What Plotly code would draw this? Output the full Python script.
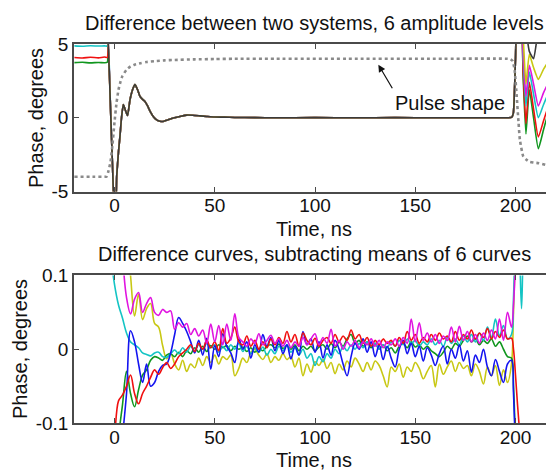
import plotly.graph_objects as go

# ---------------- TOP PANEL DATA ----------------
top_pre_t = [-20, -16, -12, -8, -5, -3.6]
top_pre = {
    "black":   [6.2, 6.25, 6.2, 6.22, 6.2, 6.2],
    "yellow":  [5.8, 5.82, 5.78, 5.8, 5.81, 5.8],
    "magenta": [5.4, 5.42, 5.38, 5.41, 5.4, 5.4],
    "cyan":    [4.87, 4.85, 4.88, 4.86, 4.87, 4.86],
    "red":     [4.08, 4.05, 4.1, 4.06, 4.12, 4.08],
    "green":   [3.74, 3.76, 3.72, 3.75, 3.73, 3.76],
}
top_mid_t = [-3.1, -2.0, -1.0, 0.0, 0.5, 1.1, 2.0, 2.7, 3.5, 4.4, 5.2, 6.5, 7.7, 9.0,
             10.2, 11.5, 12.7, 14.0, 15.2, 16.5, 17.7, 19.5, 21.0, 22.7, 24.3, 26.5,
             29.3, 32.7, 36.0, 39.0, 42.6, 46, 50, 55, 60, 70, 80, 100, 120, 140,
             160, 180, 190, 196, 198]
top_mid = [5.0, 0.7, -3.2, -6.0, -6.0, -3.95, -2.3, -1.3, 0.0, 0.9, 0.6, 0.15, 1.2, 1.9,
           2.25, 1.9, 1.45, 1.25, 1.1, 0.8, 0.45, 0.05, -0.14, -0.24, -0.25, -0.15,
           -0.02, 0.09, 0.18, 0.17, 0.13, 0.09, 0.05, 0.04, 0.02, 0.01, 0.0, 0.01, 0.0,
           0.01, 0.0, 0.0, 0.0, 0.0, 0.02]
top_post_t = [198.9, 200.0, 201.0, 202.5, 203.8, 205.2, 206.9, 209.0, 211.4, 214.0, 217.0, 220.0]
top_post = {
    "black":   [0.3, 4.0, 7.0, 7.0, 7.0, 6.0, 4.5, 4.0, 5.8, 6.2, 6.4, 6.5],
    "yellow":  [0.3, 4.0, 7.0, 7.0, 5.5, 2.3, 4.3, 3.4, 2.6, 3.3, 3.9, 4.3],
    "magenta": [0.3, 4.0, 7.0, 7.0, 4.5, 1.45, 3.55, 2.3, 0.8, 1.7, 2.5, 3.0],
    "cyan":    [0.3, 4.0, 7.0, 7.0, 4.0, 0.8, 3.1, 1.6, 0.0, 0.9, 1.8, 2.3],
    "red":     [0.3, 4.0, 7.0, 7.0, 3.2, -0.4, 2.4, 0.6, -1.3, -0.2, 1.0, 1.6],
    "green":   [0.3, 4.0, 7.0, 7.0, 2.8, -1.1, 1.9, 0.0, -2.1, -0.8, 0.6, 1.2],
}
pulse_t = [-20, -10, -5, -3.9, -3.0, -2.0, -1.0, 0.0, 1.0, 2.0, 3.0, 4.0, 6.0, 8.0, 10.0,
           13.0, 16.0, 20.0, 25.0, 30.0, 40.0, 50.0, 60.0, 80.0, 120.0, 160.0, 196.0,
           197.5, 198.5, 199.5, 200.6, 201.5, 202.2, 203.9, 205.5, 207.0, 209.0, 211.6,
           215.0, 218.0, 220.0]
pulse = [-4.0, -4.0, -4.0, -3.98, -3.6, -3.0, -1.8, -0.3, 1.0, 1.9, 2.45, 2.85, 3.25, 3.48,
         3.6, 3.7, 3.78, 3.84, 3.89, 3.92, 3.96, 3.98, 4.0, 4.0, 4.0, 4.0, 4.0,
         3.97, 3.86, 3.3, 1.45, -0.3, -1.5, -2.63, -2.85, -2.99, -3.04, -3.08,
         -3.2, -3.33, -3.38]

# ---------------- BOTTOM PANEL DATA ----------------
bot_t = list(range(-2, 199, 2)) + [199, 200, 201, 202, 203, 204, 206]
bot = {
    "yellow": [0.8, 0.6, 0.4, 0.3, 0.16, 0.1, 0.045, 0.075, 0.04, 0.055,
               0.062, 0.035, 0.03, 0.005, -0.013, -0.005, -0.02, -0.028, -0.015, -0.03,
               -0.02, -0.025, -0.012, -0.022, -0.01, -0.018, -0.008, -0.02, -0.01, -0.014,
               -0.008, -0.036, -0.026, -0.012, -0.018, -0.004, 0.0, -0.008, -0.014, -0.006,
               -0.018, -0.01, -0.015, -0.006, -0.014, -0.01, -0.024, -0.012, -0.036, -0.02,
               -0.031, -0.017, -0.022, -0.014, -0.026, -0.018, -0.033, -0.02, -0.028, -0.016,
               -0.024, -0.012, -0.02, -0.03, -0.018, -0.028, -0.016, -0.022, -0.036, -0.051,
               -0.024, -0.03, -0.02, -0.038, -0.024, -0.03, -0.018, -0.026, -0.04, -0.03,
               -0.022, -0.051, -0.02, -0.034, -0.024, -0.016, -0.03, -0.018, -0.026, -0.022,
               -0.036, -0.02, -0.03, -0.047, -0.024, -0.036, -0.022, -0.049, -0.028, -0.045,
               -0.02,
               0.05, 0.14, 0.22, 0.3, 0.36, 0.42, 0.48],
    "green": [-0.3, -0.2, -0.12, -0.075, -0.03, -0.06, -0.078, -0.055, -0.035, -0.028,
              -0.015, -0.01, -0.012, -0.015, -0.008, -0.006, -0.01, -0.004, -0.01, -0.002,
              -0.006, 0.002, -0.004, 0.004, -0.003, 0.005, 0.0, 0.006, 0.002, 0.005,
              -0.002, 0.004, 0.0, 0.003, -0.003, 0.002, -0.004, 0.001, -0.002, 0.004,
              0.006, 0.002, 0.007, 0.001, 0.005, 0.0, 0.006, -0.002, 0.004, 0.0,
              0.004, -0.002, 0.003, 0.006, 0.0, 0.008, 0.002, 0.01, 0.004, 0.014,
              0.02, 0.008, 0.012, 0.004, 0.01, 0.002, 0.008, 0.0, 0.006, -0.002,
              0.002, -0.005, 0.004, 0.008, 0.002, 0.01, 0.003, 0.006, 0.0, 0.004,
              -0.002, -0.006, -0.01, -0.004, 0.004, 0.0, 0.008, 0.004, 0.012, 0.018,
              0.01, 0.014, 0.006, 0.012, 0.008, 0.014, 0.004, 0.01, 0.0, -0.01,
              -0.012,
              -0.05, -0.13, -0.22, -0.3, -0.35, -0.4, -0.45],
    "cyan": [0.13, 0.088, 0.06, 0.042, 0.022, 0.01, 0.006, 0.002, -0.005, -0.007,
             -0.009, -0.005, -0.004, -0.01, -0.011, -0.006, -0.001, -0.006, 0.002, -0.004,
             0.004, -0.002, 0.006, 0.0, 0.008, 0.002, 0.006, -0.004, 0.004, -0.002,
             0.006, 0.0, 0.008, -0.003, 0.004, -0.006, 0.002, -0.004, 0.003, -0.008,
             0.0, -0.006, 0.004, -0.002, 0.006, -0.004, 0.002, -0.008, 0.0, -0.012,
             -0.006, -0.022, -0.01, -0.017, -0.006, -0.012, 0.0, -0.006, 0.004, -0.002,
             0.006, 0.0, 0.008, 0.002, 0.01, 0.004, 0.008, 0.0, 0.006, 0.002,
             0.01, 0.004, 0.012, 0.006, 0.014, 0.008, 0.012, 0.004, 0.01, 0.006,
             0.014, 0.006, 0.012, 0.004, 0.016, 0.008, 0.014, 0.006, 0.018, 0.01,
             0.02, 0.01, 0.022, 0.012, 0.03, 0.016, 0.041, 0.018, 0.032, 0.014,
             0.02,
             0.07, 0.15, 0.2, 0.14, 0.055, 0.14, 0.2],
    "blue": [-0.35, -0.28, -0.2, -0.12, -0.06, 0.025, 0.01, -0.02, -0.045, -0.02,
             -0.05, -0.045, -0.03, -0.022, -0.02, -0.005, 0.02, 0.043, 0.035, 0.024,
             0.01, -0.005, 0.012, -0.008, 0.015, -0.027, 0.005, -0.01, 0.021, 0.004,
             -0.005, -0.018, 0.014, 0.0, 0.01, -0.012, 0.006, -0.004, 0.02, 0.004,
             0.016, -0.002, 0.012, -0.006, 0.006, -0.013, 0.004, -0.008, 0.024, 0.006,
             0.014, -0.004, 0.01, -0.012, 0.006, -0.008, 0.012, 0.0, -0.02, -0.036,
             -0.01, 0.008, 0.0, 0.014, -0.004, 0.01, -0.01, 0.006, -0.014, 0.004,
             -0.012, -0.024, 0.0, 0.012, -0.006, 0.008, -0.01, 0.004, -0.016, 0.002,
             -0.008, -0.022, -0.006, 0.004, -0.02, 0.0, -0.012, 0.006, -0.016, -0.002,
             -0.031, -0.008, -0.018, 0.0, -0.024, -0.036, -0.014, -0.03, -0.045, -0.02,
             -0.015,
             -0.06, -0.14, -0.22, -0.3, -0.36, -0.42, -0.48],
    "red": [-0.16, -0.12, -0.07, -0.062, -0.05, -0.035, -0.06, -0.074, -0.06, -0.05,
            -0.038, -0.028, -0.034, -0.025, -0.018, -0.026, -0.02, -0.01, -0.005, 0.0,
            0.006, -0.003, 0.008, 0.0, 0.012, 0.002, 0.01, -0.002, 0.028, 0.008,
            0.015, 0.03, 0.01, 0.006, 0.018, 0.004, 0.012, 0.0, 0.01, 0.002,
            0.014, 0.006, 0.016, 0.008, 0.024, 0.01, 0.02, 0.004, 0.022, 0.012,
            0.006, 0.015, 0.004, 0.012, 0.016, 0.008, 0.02, 0.01, 0.018, 0.012,
            0.026, 0.014, 0.02, 0.008, 0.016, 0.004, 0.012, 0.006, 0.014, 0.008,
            0.012, 0.004, 0.016, 0.008, 0.024, 0.012, 0.02, 0.008, 0.016, 0.01,
            0.02, 0.012, 0.022, 0.014, 0.018, 0.01, 0.024, 0.012, 0.02, 0.014,
            0.026, 0.014, 0.022, 0.016, 0.028, 0.014, 0.024, 0.016, 0.026, 0.014,
            0.015,
            0.0, -0.035, -0.075, -0.11, -0.15, -0.19, -0.26],
    "magenta": [0.5, 0.4, 0.3, 0.13, 0.07, 0.048, 0.068, 0.077, 0.05, 0.062,
                0.07, 0.05, 0.046, 0.054, 0.05, 0.052, 0.027, 0.036, 0.03, 0.035,
                0.02, 0.028, 0.018, 0.026, 0.008, 0.034, 0.01, 0.032, 0.006, 0.034,
                0.012, 0.048, 0.016, 0.01, 0.004, 0.014, 0.008, 0.021, 0.006, 0.012,
                0.019, 0.008, 0.014, 0.004, 0.012, 0.002, 0.01, 0.004, 0.016, 0.006,
                0.014, 0.021, 0.006, 0.016, 0.008, 0.027, 0.004, 0.012, 0.0, 0.01,
                0.004, 0.012, 0.002, 0.01, 0.006, 0.014, 0.004, 0.012, 0.002, 0.01,
                0.006, 0.014, 0.004, 0.016, 0.008, 0.041, 0.01, 0.036, 0.012, 0.022,
                0.01, 0.02, 0.008, 0.018, 0.012, 0.03, 0.01, 0.031, 0.012, 0.024,
                0.01, 0.02, 0.008, 0.022, 0.012, 0.026, 0.014, 0.041, 0.012, 0.05,
                0.03,
                0.06, 0.12, 0.2, 0.28, 0.35, 0.4, 0.45],
}

colors = {
    "black": "#3a3a3a", "yellow": "#c8c814", "magenta": "#e014e0",
    "cyan": "#14c4c4", "red": "#f01010", "green": "#10961e", "blue": "#1414f0",
}

FONT = "Liberation Sans, Arial, sans-serif"
fig = go.Figure()

for name in ["green", "red", "cyan", "magenta", "yellow", "black"]:
    fig.add_trace(go.Scatter(
        x=top_pre_t + top_mid_t + top_post_t,
        y=top_pre[name] + top_mid + top_post[name],
        mode="lines", line=dict(color=colors[name], width=1.6, shape="spline", smoothing=0.5),
        xaxis="x", yaxis="y", showlegend=False, hoverinfo="skip"))
fig.add_trace(go.Scatter(
    x=pulse_t, y=pulse, mode="lines",
    line=dict(color="#8a8a8a", width=2.6, dash="dot", shape="spline", smoothing=0.5),
    xaxis="x", yaxis="y", showlegend=False, hoverinfo="skip"))

for name in ["yellow", "green", "cyan", "blue", "red", "magenta"]:
    fig.add_trace(go.Scatter(
        x=bot_t, y=bot[name], mode="lines",
        line=dict(color=colors[name], width=1.6, shape="spline", smoothing=1.0),
        xaxis="x2", yaxis="y2", showlegend=False, hoverinfo="skip"))

axis_common = dict(showgrid=False, zeroline=False, showline=True, linecolor="#4a4a4a",
                   linewidth=1.5, ticks="inside", ticklen=5, tickcolor="#4a4a4a",
                   tickwidth=1.2, tickfont=dict(family=FONT, size=19, color="#111"))
xr = [-20.2, 219.2]
top_dom = [0.6108, 1.0]
bot_dom = [0.0, 0.3892]
# page body has an 8px margin: figure is placed at (8, 8)
fig.update_layout(
    width=546, height=463,
    margin=dict(l=66, r=0, t=36, b=48),
    paper_bgcolor="white", plot_bgcolor="white",
    xaxis=dict(domain=[0, 1], range=xr, anchor="y", mirror="ticks",
               tickvals=[0, 50, 100, 150, 200], ticklabelstandoff=-4, **axis_common),
    yaxis=dict(domain=top_dom, range=[-5, 5], anchor="x", tickvals=[-5, 0, 5],
               ticktext=["-5", "0", "5"], **axis_common),
    xaxis2=dict(domain=[0, 1], range=xr, anchor="y2", mirror="ticks",
                tickvals=[0, 50, 100, 150, 200], ticklabelstandoff=-4, **axis_common),
    yaxis2=dict(domain=bot_dom, range=[-0.1, 0.1], anchor="x2", tickvals=[-0.1, 0, 0.1],
                ticktext=["-0.1", "0", "0.1"], **axis_common),
    yaxis3=dict(overlaying="y", side="right", range=[-5, 5], tickvals=[0],
                showticklabels=False, showline=False, showgrid=False, zeroline=False,
                ticks="inside", ticklen=5, tickcolor="#4a4a4a", tickwidth=1.2),
    yaxis4=dict(overlaying="y2", side="right", range=[-0.1, 0.1], tickvals=[0],
                showticklabels=False, showline=False, showgrid=False, zeroline=False,
                ticks="inside", ticklen=5, tickcolor="#4a4a4a", tickwidth=1.2),
)

tfont = dict(family=FONT, size=20, color="#111")
ann = [
    dict(text="Difference between two systems, 6 amplitude levels", x=0.5, y=1.0554),
    dict(text="Time, ns", x=0.5, y=0.5119),
    dict(text="Difference curves, subtracting means of 6 curves", x=0.5, y=0.4459),
    dict(text="Time, ns", x=0.5, y=-0.0976),
    dict(text="Phase, degrees", x=(36 - 74) / 480, y=0.8047, textangle=-90),
    dict(text="Phase, degrees", x=(20 - 74) / 480, y=0.1953, textangle=-90),
]
for a in ann:
    fig.add_annotation(xref="paper", yref="paper", showarrow=False, font=tfont,
                       xanchor="center", yanchor="middle", **a)

fig.add_annotation(xref="x", yref="y", x=167.3, y=1.0, text="Pulse shape",
                   showarrow=False, font=tfont, xanchor="center", yanchor="middle")
fig.add_annotation(xref="x", yref="y", axref="x", ayref="y", x=131.6, y=3.6,
                   ax=139.0, ay=1.9, text="", showarrow=True, arrowhead=2,
                   arrowsize=1.2, arrowwidth=1.2, arrowcolor="#111")

fig.write_html("out.html")
